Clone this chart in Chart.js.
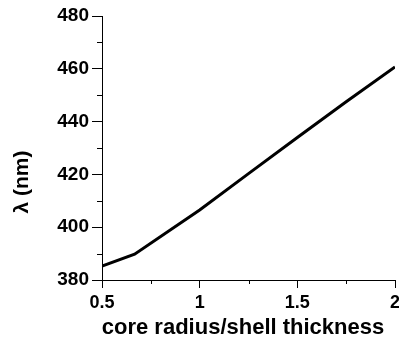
<!DOCTYPE html>
<html>
<head>
<meta charset="utf-8">
<script src="https://cdn.jsdelivr.net/npm/chart.js@4/dist/chart.umd.min.js"></script>
<style>
html,body{margin:0;padding:0;background:#fff;}
#wrap{position:relative;width:399px;height:340px;}
</style>
</head>
<body>
<div id="wrap"><canvas id="c" width="399" height="340"></canvas></div>
<script>
const ratioValues = [0.5, 0.667, 1, 1.25, 1.5, 1.75, 2];
const lambdaValues = [385.3, 389.8, 406.5, 420.3, 434, 447.5, 460.7];
const xMajorTicks = [0.5, 1, 1.5, 2];
const xMinorTicks = [0.75, 1.25, 1.75];
const yMajorTicks = [380, 400, 420, 440, 460, 480];
const yMinorTicks = [390, 410, 430, 450, 470];
const xTitle = 'core radius/shell thickness';
const yTitle = 'λ (nm)';

const FONT = '"Liberation Sans", Arial, sans-serif';

const minorTicksPlugin = {
  id: 'minorTicks',
  afterDraw(chart) {
    const ctx = chart.ctx;
    const xs = chart.scales.x, ys = chart.scales.y;
    const ca = chart.chartArea;
    ctx.save();
    ctx.strokeStyle = '#000';
    ctx.lineWidth = 1;
    ctx.beginPath();
    xMinorTicks.forEach(v => {
      const px = Math.round(xs.getPixelForValue(v)) + 0.5;
      ctx.moveTo(px, ca.bottom);
      ctx.lineTo(px, ca.bottom + 4);
    });
    yMinorTicks.forEach(v => {
      const py = Math.round(ys.getPixelForValue(v)) + 0.5;
      ctx.moveTo(ca.left, py);
      ctx.lineTo(ca.left - 5, py);
    });
    ctx.stroke();
    // titles
    ctx.fillStyle = '#000';
    ctx.font = 'bold 22px ' + FONT;
    ctx.textAlign = 'center';
    ctx.textBaseline = 'middle';
    ctx.fillText(xTitle, 243, 328);
    ctx.translate(22, 182);
    ctx.rotate(-Math.PI / 2);
    ctx.font = 'bold 21px ' + FONT;
    ctx.fillText(yTitle, 0, 0);
    ctx.restore();
  }
};

new Chart(document.getElementById('c'), {
  type: 'line',
  data: {
    datasets: [{
      data: ratioValues.map((x, i) => ({x: x, y: lambdaValues[i]})),
      borderColor: '#000',
      borderWidth: 3,
      pointRadius: 0,
      tension: 0,
      fill: false
    }]
  },
  options: {
    responsive: false,
    animation: false,
    devicePixelRatio: 1,
    layout: {padding: {top: 16, right: 4, left: 0, bottom: 0}},
    plugins: {legend: {display: false}, tooltip: {enabled: false}},
    scales: {
      x: {
        type: 'linear',
        min: 0.5, max: 2,
        afterBuildTicks: s => { s.ticks = xMajorTicks.map(v => ({value: v})); },
        afterFit: s => { s.height = 60; s.paddingLeft = 0; s.paddingRight = 0; },
        border: {color: '#000', width: 1},
        grid: {drawOnChartArea: false, drawTicks: true, tickLength: 8, color: '#000'},
        ticks: {
          color: '#000', padding: 4, maxRotation: 0, autoSkip: false,
          font: {family: FONT, size: 18, weight: 'bold'},
          callback: v => String(v)
        }
      },
      y: {
        type: 'linear',
        min: 380, max: 480,
        afterBuildTicks: s => { s.ticks = yMajorTicks.map(v => ({value: v})); },
        afterFit: s => { s.width = 102; s.paddingTop = 0; s.paddingBottom = 0; },
        border: {color: '#000', width: 1},
        grid: {drawOnChartArea: false, drawTicks: true, tickLength: 10, color: '#000'},
        ticks: {
          color: '#000', padding: 3, autoSkip: false,
          font: {family: FONT, size: 19, weight: 'bold'},
          callback: v => String(v)
        }
      }
    }
  },
  plugins: [minorTicksPlugin]
});
</script>
</body>
</html>
